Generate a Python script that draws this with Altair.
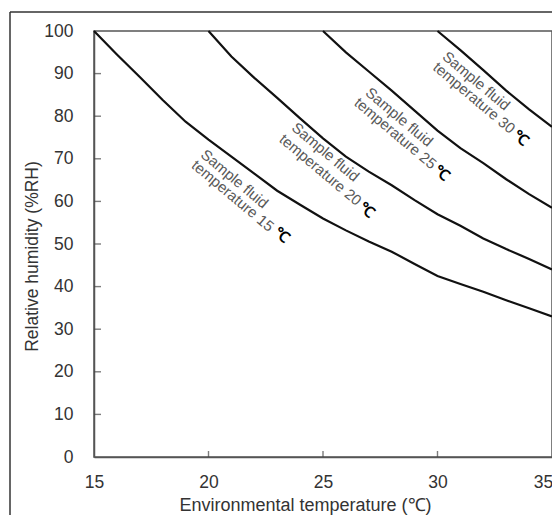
import altair as alt
import pandas as pd

# ---------------- data ----------------
temp_15 = list(range(15, 36))
rh_15 = [100, 94.5, 89.2, 83.8, 78.7, 74.5, 70.5, 66.5, 62.5, 59.2, 56,
         53.2, 50.6, 48.2, 45.3, 42.5, 40.6, 38.8, 36.8, 34.9, 33]
temp_20 = list(range(20, 36))
rh_20 = [100, 94, 89, 84.3, 79.5, 74.8, 70.5, 67, 63.8, 60.3, 57, 54.3,
         51.3, 48.8, 46.5, 44]
temp_25 = list(range(25, 36))
rh_25 = [100, 95, 90.5, 86, 81.3, 76.6, 72.5, 69, 65.2, 61.7, 58.5]
temp_30 = list(range(30, 36))
rh_30 = [100, 95.5, 90.8, 86, 81.6, 77.5]

fluid_temps = [15, 20, 25, 30]
label1_x = [21.14, 25.11, 28.33, 31.69]
label1_y = [65.3, 71.6, 79.8, 88.3]
label2_x = [21.06, 24.89, 28.16, 31.6]
label2_y = [61.3, 67.4, 76.0, 84.3]
unit_x = [23.19, 26.94, 30.21, 33.65]
unit_y = [52.1, 58.0, 66.7, 74.9]

x_tick_values = [15, 20, 25, 30, 35]
y_tick_values = [0, 10, 20, 30, 40, 50, 60, 70, 80, 90, 100]
x_inner_ticks = [20, 25, 30]
y_inner_ticks = [10, 20, 30, 40, 50, 60, 70, 80, 90]

W, H = 458, 426

rows = []
for f, xs, ys in [(15, temp_15, rh_15), (20, temp_20, rh_20),
                  (25, temp_25, rh_25), (30, temp_30, rh_30)]:
    for xv, yv in zip(xs, ys):
        rows.append({"x": xv, "y": yv, "fluid": f})
curves = pd.DataFrame(rows)

lab1 = pd.DataFrame({"x": label1_x, "y": label1_y,
                     "t": ["Sample fluid"] * 4})
lab2 = pd.DataFrame({"x": label2_x, "y": label2_y,
                     "t": [f"temperature {f}" for f in fluid_temps]})
unit = pd.DataFrame({"x": unit_x, "y": unit_y, "t": ["℃"] * 4})

xscale = alt.Scale(domain=[15, 35], nice=False, zero=False)
yscale = alt.Scale(domain=[0, 100], nice=False, zero=True)

xaxis = alt.Axis(values=x_tick_values, title="Environmental temperature (℃)",
                 grid=False, ticks=False, tickSize=0, labelPadding=16,
                 labelFontSize=17.5, labelColor="#333333", titleFontSize=18,
                 titleFontWeight="normal", titleColor="#333333",
                 titleX=211, titleY=48, titleBaseline="middle",
                 titleAlign="center", labelFlush=False,
                 labelOffset={"condition": {"test": "datum.value === 35", "value": -9},
                              "value": 0},
                 domainColor="#555555", domainWidth=1.5)
yaxis = alt.Axis(values=y_tick_values, title="Relative humidity (%RH)",
                 grid=False, ticks=False, tickSize=0, labelPadding=21,
                 labelFontSize=17.5, labelColor="#333333", titleFontSize=17.5,
                 titleFontWeight="normal", titleColor="#333333",
                 titleX=-62, titleY=225, titleAngle=-90,
                 titleBaseline="middle", titleAlign="center",
                 labelFlush=False,
                 domainColor="#555555", domainWidth=1.5)

X = lambda: alt.X("x:Q", scale=xscale, axis=xaxis)
Y = lambda: alt.Y("y:Q", scale=yscale, axis=yaxis)

lines = alt.Chart(curves).mark_line(color="#111111", strokeWidth=2.2).encode(
    x=X(), y=Y(), detail="fluid:N")

def text_layer(df, color, weight, size):
    return alt.Chart(df).mark_text(angle=40, align="center", baseline="middle",
                                   color=color, fontWeight=weight, fontSize=size).encode(
        x=X(), y=Y(), text="t:N")

t1 = text_layer(lab1, "#595959", "normal", 15)
t2 = text_layer(lab2, "#595959", "normal", 15)
t3 = text_layer(unit, "#000000", "bold", 15)

# inward tick marks (inside the plot only)
xt = alt.Chart(pd.DataFrame({"x": x_inner_ticks})).mark_tick(
    color="#444444", thickness=1.4, size=6, orient="vertical").encode(
    x=X(), y=alt.value(H - 3))
yt = alt.Chart(pd.DataFrame({"y": y_inner_ticks})).mark_tick(
    color="#444444", thickness=1.4, size=7, orient="horizontal").encode(
    y=Y(), x=alt.value(3.5))

one = pd.DataFrame({"k": [0]})
frame_top = alt.Chart(one).mark_rule(color="#333333", strokeWidth=1.5).encode(
    x=alt.value(-84), x2=alt.value(470), y=alt.value(-19))
frame_left = alt.Chart(one).mark_rule(color="#333333", strokeWidth=1.5).encode(
    x=alt.value(-84), y=alt.value(-19), y2=alt.value(500))

chart = alt.layer(lines, t1, t2, t3, xt, yt, frame_top, frame_left).properties(
    width=W, height=H,
    autosize=alt.AutoSizeParams(type="none"),
    padding={"left": 86, "top": 23, "right": 0, "bottom": 58},
).configure(font="Liberation Sans").configure_view(
    stroke="#555555", strokeWidth=1.5)

chart.save("out.html", embed_options={"renderer": "svg", "actions": False})
